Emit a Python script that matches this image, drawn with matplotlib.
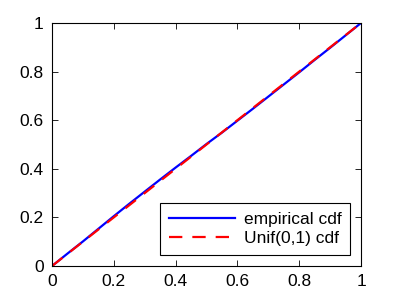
import matplotlib
matplotlib.use("Agg")
import matplotlib.pyplot as plt
import numpy as np

plt.rcParams['font.family'] = ['Liberation Sans', 'DejaVu Sans']

emp_x = [0, 0.05, 0.1, 0.15, 0.2, 0.25, 0.3, 0.35, 0.4, 0.45, 0.5,
         0.55, 0.6, 0.65, 0.7, 0.75, 0.8, 0.85, 0.9, 0.95, 1.0]
emp_y = [0, 0.051, 0.101, 0.153, 0.205, 0.256, 0.306, 0.356, 0.405, 0.453, 0.502,
         0.549, 0.598, 0.647, 0.697, 0.747, 0.797, 0.848, 0.898, 0.949, 1.0]
unif_x = [0, 1]
unif_y = [0, 1]
ticks = [0, 0.2, 0.4, 0.6, 0.8, 1]
tick_labels = ['0', '0.2', '0.4', '0.6', '0.8', '1']

fig = plt.figure(figsize=(3.99, 2.99), dpi=100)
ax = fig.add_axes([52/399, 33/299, 309/399, 243/299])
ax.plot(emp_x, emp_y, color='#0000ff', lw=1.6, label='empirical cdf')
ax.plot(unif_x, unif_y, color='#ff0000', lw=1.6, ls=(0, (6, 4.5)), label='Unif(0,1) cdf')
ax.set_xlim(0, 1)
ax.set_ylim(0, 1)
ax.set_xticks(ticks)
ax.set_xticklabels(tick_labels)
ax.set_yticks(ticks)
ax.set_yticklabels(tick_labels)
ax.tick_params(direction='in', length=4, width=0.6, top=True, right=True,
               labelsize=12.5, pad=6)
for s in ax.spines.values():
    s.set_linewidth(0.8)
leg = ax.legend(loc='lower right', fontsize=12.5, fancybox=False, framealpha=1,
                edgecolor='black', borderaxespad=0.63, handlelength=3.8,
                handletextpad=0.5, borderpad=0.5, labelspacing=0.25)
leg.get_frame().set_linewidth(0.8)
fig.savefig('out.png', dpi=100)
